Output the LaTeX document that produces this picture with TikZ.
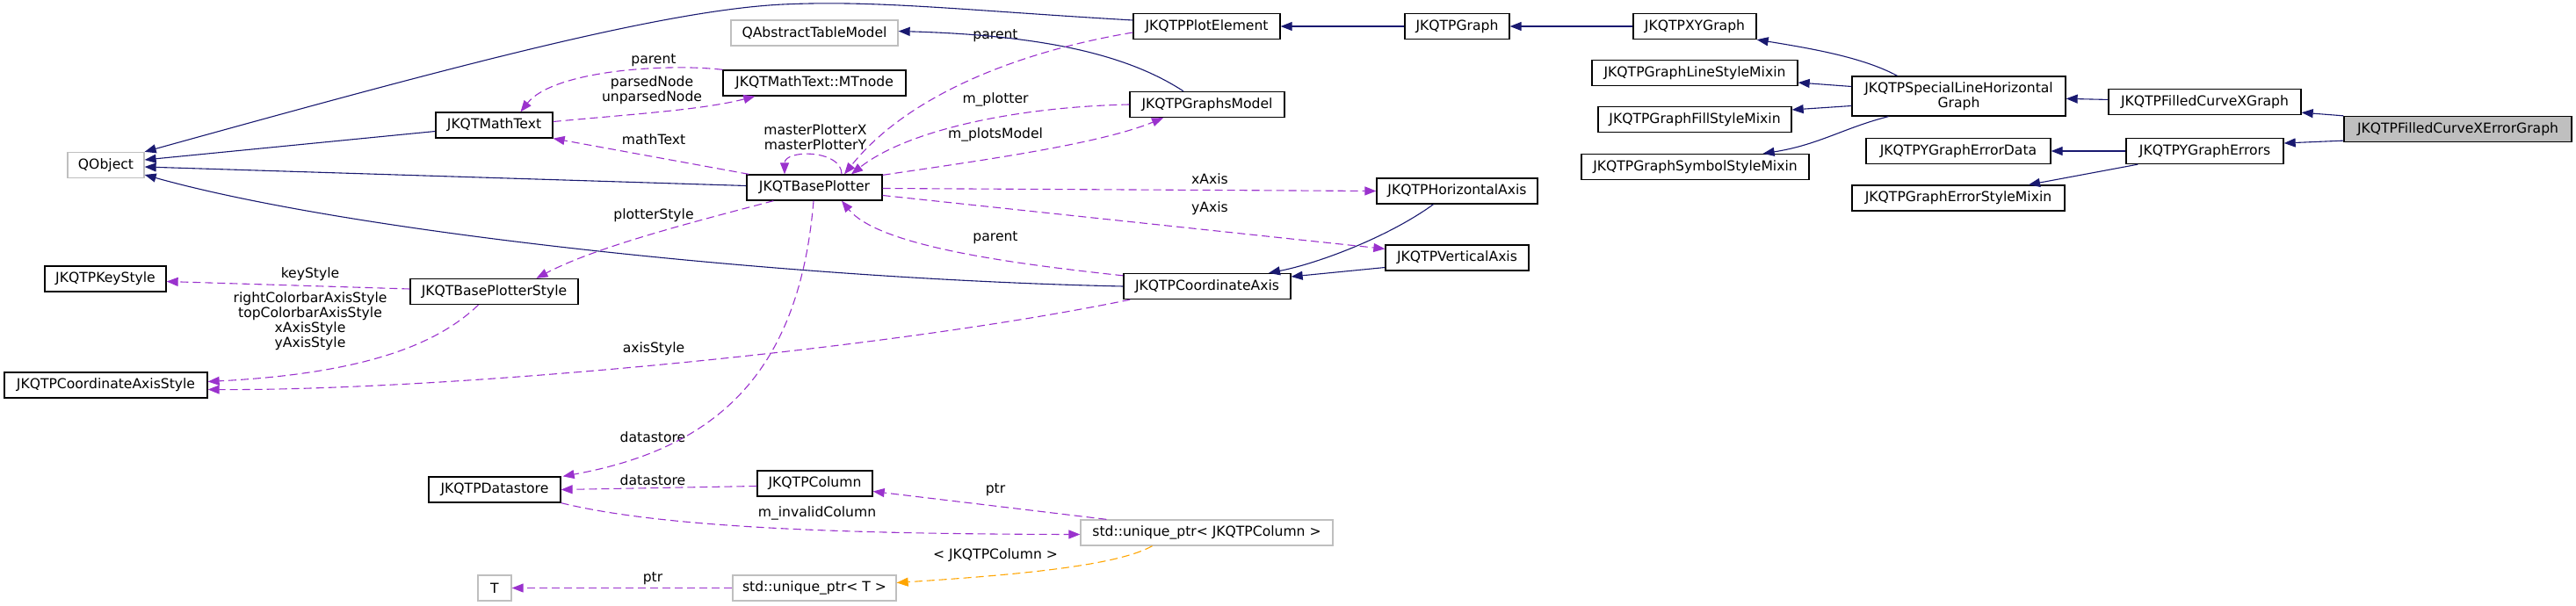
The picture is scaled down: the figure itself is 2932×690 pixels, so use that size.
\documentclass[tikz,border=0pt]{standalone}
\usepackage{fontspec}
\setmainfont{DejaVu Sans}
\usetikzlibrary{arrows.meta,calc}

\definecolor{navy}{HTML}{191970}
\definecolor{orchid}{HTML}{9A32CD}
\definecolor{amber}{HTML}{FFA500}
\definecolor{boxgray}{HTML}{BFBFBF}

\tikzset{
	cls/.style={draw=black, line width=0.65pt, inner sep=0pt, minimum height=14.5pt, font=\fontsize{7.8}{8.5}\selectfont},
	ext/.style={cls, draw=boxgray},
	hl/.style={cls, fill=boxgray},
	lbl/.style={inner sep=0pt, align=center, font=\fontsize{7.8}{8.5}\selectfont},
	inh/.style={draw=navy, line width=0.55pt, -{Triangle[length=6.5pt,width=5pt]}},
	usg/.style={draw=orchid, line width=0.55pt, dash pattern=on 4.5pt off 2.5pt, -{Triangle[length=6.5pt,width=5pt]}},
	tmpl/.style={usg, draw=amber}
}

\begin{document}
\begin{tikzpicture}[x=0.5pt, y=-0.5pt]
		\useasboundingbox (0, 0) rectangle (2932, 690);
		\node [ext, minimum width=43.5pt] (qobj) at (120.5, 188) {QObject};
		\node [ext, minimum width=95pt] (qat) at (927, 37.5) {QAbstractTableModel};
		\node [cls, minimum width=104pt] (mtn) at (927, 94.5) {JKQTMathText::MTnode};
		\node [cls, minimum width=66.5pt] (mt) at (562.5, 142.5) {JKQTMathText};
		\node [cls, minimum width=77pt] (bp) at (927, 213.5) {JKQTBasePlotter};
		\node [cls, minimum width=69pt] (ks) at (120, 317.5) {JKQTPKeyStyle};
		\node [cls, minimum width=95.5pt] (bps) at (562.5, 332) {JKQTBasePlotterStyle};
		\node [cls, minimum width=115.5pt] (cas) at (120.5, 438.5) {JKQTPCoordinateAxisStyle};
		\node [cls, minimum width=83.5pt] (pe) at (1373.5, 30) {JKQTPPlotElement};
		\node [cls, minimum width=59.5pt] (g) at (1658.5, 30) {JKQTPGraph};
		\node [cls, minimum width=70pt] (xy) at (1929, 30) {JKQTPXYGraph};
		\node [cls, minimum width=117pt] (lsm) at (1929, 83) {JKQTPGraphLineStyleMixin};
		\node [cls, minimum width=110pt] (fsm) at (1929, 136) {JKQTPGraphFillStyleMixin};
		\node [cls, minimum width=129.5pt] (ssm) at (1929.5, 190) {JKQTPGraphSymbolStyleMixin};
		\node [cls, minimum width=88pt] (gm) at (1374, 119) {JKQTPGraphsModel};
		\node [cls, minimum width=91.5pt] (ha) at (1658.5, 217.5) {JKQTPHorizontalAxis};
		\node [cls, minimum width=81.5pt] (va) at (1658.5, 293.5) {JKQTPVerticalAxis};
		\node [cls, minimum width=95pt] (ca) at (1374, 326) {JKQTPCoordinateAxis};
		\node [cls, minimum width=121.5pt, minimum height=22.5pt, align=center] (slhg) at (2229.5, 109.5) {JKQTPSpecialLineHorizontal\\Graph};
		\node [cls, minimum width=109.5pt] (fcx) at (2509.5, 116) {JKQTPFilledCurveXGraph};
		\node [hl, minimum width=129.5pt] (fcxe) at (2797.5, 147) {JKQTPFilledCurveXErrorGraph};
		\node [cls, minimum width=105pt] (yed) at (2229, 172) {JKQTPYGraphErrorData};
		\node [cls, minimum width=89.5pt] (ye) at (2509.5, 172) {JKQTPYGraphErrors};
		\node [cls, minimum width=121pt] (esm) at (2229, 225.5) {JKQTPGraphErrorStyleMixin};
		\node [cls, minimum width=75pt] (ds) at (563, 557.5) {JKQTPDatastore};
		\node [cls, minimum width=65.5pt] (col) at (927.5, 550.5) {JKQTPColumn};
		\node [ext, minimum width=143.5pt] (uc) at (1373.5, 606.5) {std::unique\_ptr< JKQTPColumn >};
		\node [ext, minimum width=19pt] (t) at (563, 669.5) {T};
		\node [ext, minimum width=93pt] (ut) at (927, 669.5) {std::unique\_ptr< T >};

		\node [lbl] (lmtparent) at (744, 69) {parent};
		\node [lbl] (lparsed) at (742, 103) {parsedNode\\unparsedNode};
		\node [lbl] (lmathtext) at (744, 159) {mathText};
		\node [lbl] (lmaster) at (928, 156) {masterPlotterX\\masterPlotterY};
		\node [lbl] (lpeparent) at (1133, 41) {parent};
		\node [lbl] (lmplotter) at (1133, 113) {m\_plotter};
		\node [lbl] (lplotsmodel) at (1133, 153) {m\_plotsModel};
		\node [lbl] (lxaxis) at (1377, 204) {xAxis};
		\node [lbl] (lyaxis) at (1377, 237) {yAxis};
		\node [lbl] (lcaparent) at (1133, 271) {parent};
		\node [lbl] (lplotterstyle) at (744, 245) {plotterStyle};
		\node [lbl] (lkeystyle) at (353, 312) {keyStyle};
		\node [lbl] (laxisstyles) at (353, 366) {rightColorbarAxisStyle\\topColorbarAxisStyle\\xAxisStyle\\yAxisStyle};
		\node [lbl] (laxisstyle) at (744, 397) {axisStyle};
		\node [lbl] (lbpdatastore) at (743, 498) {datastore};
		\node [lbl] (lcoldatastore) at (743, 547) {datastore};
		\node [lbl] (linvalid) at (930, 584) {m\_invalidColumn};
		\node [lbl] (lcolptr) at (1133, 558) {ptr};
		\node [lbl] (ltmpl) at (1133, 632) {< JKQTPColumn >};
		\node [lbl] (ltptr) at (743, 659) {ptr};

		\draw [inh] ($(pe.west)+(0,-7)$) .. controls (1100, 12) and (1000, 0) .. (891, 5) .. controls (750, 12) and (500, 80) .. (qobj.north east);
		\draw [inh] ($(gm.north)+(-27,0)$) .. controls (1280, 60) and (1180, 40) .. ($(qat.east)+(0,-2)$);
		\draw [inh] ($(mt.west)+(0,7)$) -- ($(qobj.east)+(0,-6)$);
		\draw [inh] ($(bp.west)+(0,-2)$) -- ($(qobj.east)+(0,2)$);
		\draw [inh] (ca.west) .. controls (900, 318) and (400, 265) .. ($(qobj.east)+(0,11)$);
		\draw [inh] (g) -- (pe);
		\draw [inh] (xy) -- (g);
		\draw [inh] ($(slhg.north)+(-70,0)$) .. controls (2120, 65) and (2060, 55) .. (xy.south east);
		\draw [inh] ($(slhg.west)+(0,-11)$) -- ($(lsm.east)+(0,11)$);
		\draw [inh] ($(slhg.west)+(0,11)$) -- ($(fsm.east)+(0,-11)$);
		\draw [inh] ($(slhg.south)+(-80,0)$) .. controls (2100, 145) and (2070, 165) .. ($(ssm.north east)+(-53,0)$);
		\draw [inh] (fcx) -- (slhg);
		\draw [inh] (fcxe.north west) -- ($(fcx.south east)+(0,-3)$);
		\draw [inh] ($(fcxe.south west)+(0,-2)$) -- ($(ye.east)+(0,-9)$);
		\draw [inh] (ye) -- (yed);
		\draw [inh] ($(ye.south west)+(14,0)$) -- ($(esm.north)+(80,0)$);
		\draw [inh] ($(ha.south)+(-27,0)$) .. controls (1580, 270) and (1500, 300) .. ($(ca.north)+(70,0)$);
		\draw [inh] ($(va.west)+(0,11)$) -- ($(ca.east)+(0,-11)$);

		\draw [usg] ($(mt.east)+(0,-4)$) .. controls (720, 130) and (800, 125) .. ($(mtn.south west)+(37,0)$);
		\draw [usg] (mtn.north west) .. controls (760, 72) and (630, 80) .. ($(mt.north)+(30,0)$);
		\draw [usg] ($(bp.north west)+(3,0)$) -- (mt.south east);
		\draw [usg] ($(bp.north)+(31,0)$) .. controls (958, 170) and (893, 170) .. ($(bp.north)+(-34,0)$);
		\draw [usg] ($(pe.west)+(0,7)$) .. controls (1180, 55) and (1040, 100) .. ($(bp.north)+(34,0)$);
		\draw [usg] (gm.west) .. controls (1150, 122) and (1030, 150) .. ($(bp.north)+(42,0)$);
		\draw [usg] ($(bp.north east)+(0,1)$) .. controls (1100, 185) and (1250, 165) .. ($(gm.south)+(-50,0)$);
		\draw [usg] ($(bp.east)+(0,1)$) -- (ha.west);
		\draw [usg] ($(bp.east)+(0,9)$) -- ($(va.north west)+(0,5)$);
		\draw [usg] ($(ca.north west)+(0,3)$) .. controls (1150, 300) and (1000, 280) .. ($(bp.south)+(31,0)$);
		\draw [usg] ($(bp.south west)+(31,0)$) .. controls (800, 250) and (680, 280) .. ($(bps.north)+(48,0)$);
		\draw [usg] ($(bps.west)+(0,-3)$) -- ($(ks.east)+(0,3)$);
		\draw [usg] ($(bps.south)+(-18,0)$) .. controls (500, 390) and (420, 425) .. ($(cas.east)+(0,-4)$);
		\draw [usg] ($(ca.south west)+(8,0)$) .. controls (1000, 400) and (500, 445) .. ($(cas.east)+(0,5)$);
		\draw [usg] ($(bp.south)+(-1,0)$) .. controls (910, 420) and (820, 510) .. ($(ds.north east)+(2,0)$);
		\draw [usg] ($(col.west)+(0,3)$) -- (ds.east);
		\draw [usg] (ds.south east) .. controls (750, 600) and (950, 608) .. ($(uc.west)+(0,2)$);
		\draw [usg] ($(uc.north west)+(30,0)$) -- ($(col.east)+(0,9)$);
		\draw [usg] (ut) -- (t);
		\draw [tmpl] ($(uc.south)+(-62,0)$) .. controls (1270, 645) and (1150, 655) .. ($(ut.east)+(0,-6)$);
	\end{tikzpicture}
\end{document}
